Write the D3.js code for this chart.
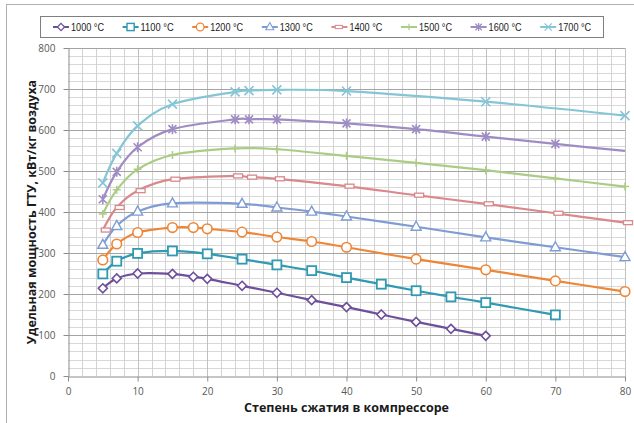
<!DOCTYPE html>
<html><head><meta charset="utf-8">
<script src="https://cdn.jsdelivr.net/npm/d3@7"></script>
<style>
body{margin:0;background:#fff;}
svg{display:block;font-family:"Open Sans","Liberation Sans",sans-serif;}
</style></head>
<body>
<svg id="c" width="634" height="423"></svg>
<script>
// ---- data ----
const categories = ["1000 °C","1100 °C","1200 °C","1300 °C","1400 °C","1500 °C","1600 °C","1700 °C"];
const x1000 = [5,7,10,15,18,20,25,30,35,40,45,50,55,60];
const y1000 = [214,238,250,249,242,237,220,203,185,168,150,132,115,98];
const x1100 = [5,7,10,15,20,25,30,35,40,45,50,55,60,70];
const y1100 = [249,280,299,305,298,285,271,257,240,224,208,193,179,149];
const x1200 = [5,7,10,15,18,20,25,30,35,40,50,60,70,80];
const y1200 = [283,322,350,362,362,359,351,339,328,314,285,259,232,206];
const x1300 = [5,7,10,15,25,30,35,40,50,60,70,80];
const y1300 = [320,366,401,421,420,411,401,389,364,338,314,290];
const x1400 = [5,7,10,15,24,26,30,40,50,60,70,80];
const y1400 = [356,411,452,480,488,485,481,463,441,420,397,374];
const x1500 = [5,7,10,15,24,30,40,50,60,70,80];
const y1500 = [395,454,504,539,555,553,537,520,502,482,462];
const x1600 = [5,7,10,15,24,26,30,40,50,60,70,80];
const y1600 = [431,498,558,602,626,626,626,616,602,584,566,549];
const m1600 = [1,1,1,1,1,1,1,1,1,1,1,0]; // last point drawn without marker
const x1700 = [5,7,10,15,24,26,30,40,60,80];
const y1700 = [471,543,610,663,693,696,698,695,669,635];
const xTicks = [0,10,20,30,40,50,60,70,80];
const yTicks = [0,100,200,300,400,500,600,700,800];
const xTitle = "Степень сжатия в компрессоре";
const yTitle = "Удельная мощность ГТУ, кВт/кг воздуха";

// ---- styles ----
const colors = ["#6e4f9c","#2f9ab2","#ef8636","#7f9cd4","#d9888b","#abcc85","#9f8cc3","#84c5d6"];
const shapes = ["diamond","square","circle","triangle","dash","plus","star","x"];
const series = [
  {x:x1000,y:y1000},{x:x1100,y:y1100},{x:x1200,y:y1200},{x:x1300,y:y1300},
  {x:x1400,y:y1400},{x:x1500,y:y1500},{x:x1600,y:y1600,m:m1600},{x:x1700,y:y1700}
];

const svg = d3.select("#c");
const L=68, R=625, T=48, B=376;
const x = d3.scaleLinear().domain([0,80]).range([L,R]);
const y = d3.scaleLinear().domain([0,800]).range([B,T]);

// outer frame
svg.append("rect").attr("x",6.5).attr("y",4.5).attr("width",700).attr("height",500)
  .attr("fill","none").attr("stroke","#b0b0b0");

// grid
const g = svg.append("g");
d3.range(0,801,20).filter(v=>v%100!==0).forEach(v=>{
  g.append("line").attr("x1",L).attr("x2",R).attr("y1",Math.round(y(v))+0.5).attr("y2",Math.round(y(v))+0.5)
   .attr("stroke","#d8d8d8");
});
d3.range(2,81,2).forEach(v=>{
  g.append("line").attr("y1",T).attr("y2",B).attr("x1",Math.round(x(v))+0.5).attr("x2",Math.round(x(v))+0.5)
   .attr("stroke", v%10===0 ? "#c0c0c0" : "#d2d2d2");
});
yTicks.filter(v=>v>0).forEach(v=>{
  g.append("line").attr("x1",L).attr("x2",R).attr("y1",Math.round(y(v))+0.5).attr("y2",Math.round(y(v))+0.5)
   .attr("stroke","#a4a4a4");
});

// axes
const xAxis = svg.append("g").attr("transform",`translate(0,${Math.round(B)+0.5})`)
  .call(d3.axisBottom(x).tickValues(xTicks).tickSize(5).tickSizeOuter(0).tickPadding(6));
const yAxis = svg.append("g").attr("transform",`translate(${Math.round(L)+0.5},0)`)
  .call(d3.axisLeft(y).tickValues(yTicks).tickSize(5).tickSizeOuter(0).tickPadding(8));
[xAxis,yAxis].forEach(a=>{
  a.select(".domain").attr("stroke","#8c8c8c");
  a.selectAll(".tick line").attr("stroke","#8c8c8c");
  a.selectAll("text").attr("fill","#595959").style("font-size","10px").style("font-family","Open Sans, sans-serif");
});

// titles
svg.append("text").attr("x",(L+R)/2).attr("y",412).attr("text-anchor","middle")
  .style("font-size","12.5px").style("font-weight","bold").attr("fill","#1a1a1a").text(xTitle);
svg.append("text").attr("transform",`translate(36,${(T+B)/2}) rotate(-90)`).attr("text-anchor","middle")
  .style("font-size","12.5px").style("font-weight","bold").attr("fill","#1a1a1a").text(yTitle);

// marker drawing
function marker(sel, shape, color){
  const w="#fff";
  switch(shape){
    case "diamond": sel.append("path").attr("d","M0,-4.5L4.5,0L0,4.5L-4.5,0Z").attr("fill",w).attr("stroke",color).attr("stroke-width",1.6); break;
    case "square": sel.append("rect").attr("x",-4.5).attr("y",-4.5).attr("width",9).attr("height",9).attr("fill",w).attr("stroke",color).attr("stroke-width",1.8); break;
    case "circle": sel.append("circle").attr("r",4.8).attr("fill",w).attr("stroke",color).attr("stroke-width",1.6); break;
    case "triangle": sel.append("path").attr("d","M0,-5.5L5,3.5L-5,3.5Z").attr("fill",w).attr("stroke",color).attr("stroke-width",1.4); break;
    case "dash": sel.append("rect").attr("x",-1.5).attr("y",-2).attr("width",9).attr("height",4).attr("fill",w).attr("stroke",color).attr("stroke-width",1.3); break;
    case "plus": sel.append("path").attr("d","M-4,0H4M0,-4V4").attr("stroke",color).attr("stroke-width",1.5); break;
    case "star": sel.append("path").attr("d","M-4,-4L4,4M-4,4L4,-4M0,-5V5").attr("stroke",color).attr("stroke-width",1.6); break;
    case "x": sel.append("path").attr("d","M-4.5,-4.5L4.5,4.5M-4.5,4.5L4.5,-4.5").attr("stroke",color).attr("stroke-width",1.6); break;
  }
}

// series
const line = d3.line().x(d=>x(d[0])).y(d=>y(d[1])).curve(d3.curveCardinal.tension(0));
series.forEach((s,i)=>{
  const pts = s.x.map((v,j)=>[v,s.y[j],s.m?s.m[j]:1]);
  svg.append("path").datum(pts).attr("d",line).attr("fill","none")
    .attr("stroke",colors[i]).attr("stroke-width",2.2).attr("stroke-linejoin","round");
  pts.filter(p=>p[2]).forEach(p=>{
    const gm = svg.append("g").attr("transform",`translate(${x(p[0])},${y(p[1])})`);
    marker(gm, shapes[i], colors[i]);
  });
});

// legend
const lg = svg.append("g");
lg.append("rect").attr("x",40.5).attr("y",16.5).attr("width",563).attr("height",21)
  .attr("fill","#fff").attr("stroke","#7f7f7f");
const legStep = 69.6;
categories.forEach((c,i)=>{
  const it = lg.append("g").attr("transform",`translate(${53 + i*legStep},27)`);
  it.append("line").attr("x1",0).attr("x2",16).attr("stroke",colors[i]).attr("stroke-width",2);
  const gm = it.append("g").attr("transform","translate(8,0) scale(0.8)");
  if(shapes[i]==="dash") gm.attr("transform","translate(5,0) scale(0.8)");
  marker(gm, shapes[i], colors[i]);
  it.append("text").attr("x",18).attr("y",4).style("font-size","11px").attr("fill","#1a1a1a")
    .style("font-family","Liberation Sans, sans-serif")
    .attr("textLength",33).attr("lengthAdjust","spacingAndGlyphs").text(c);
});
</script>
</body></html>
